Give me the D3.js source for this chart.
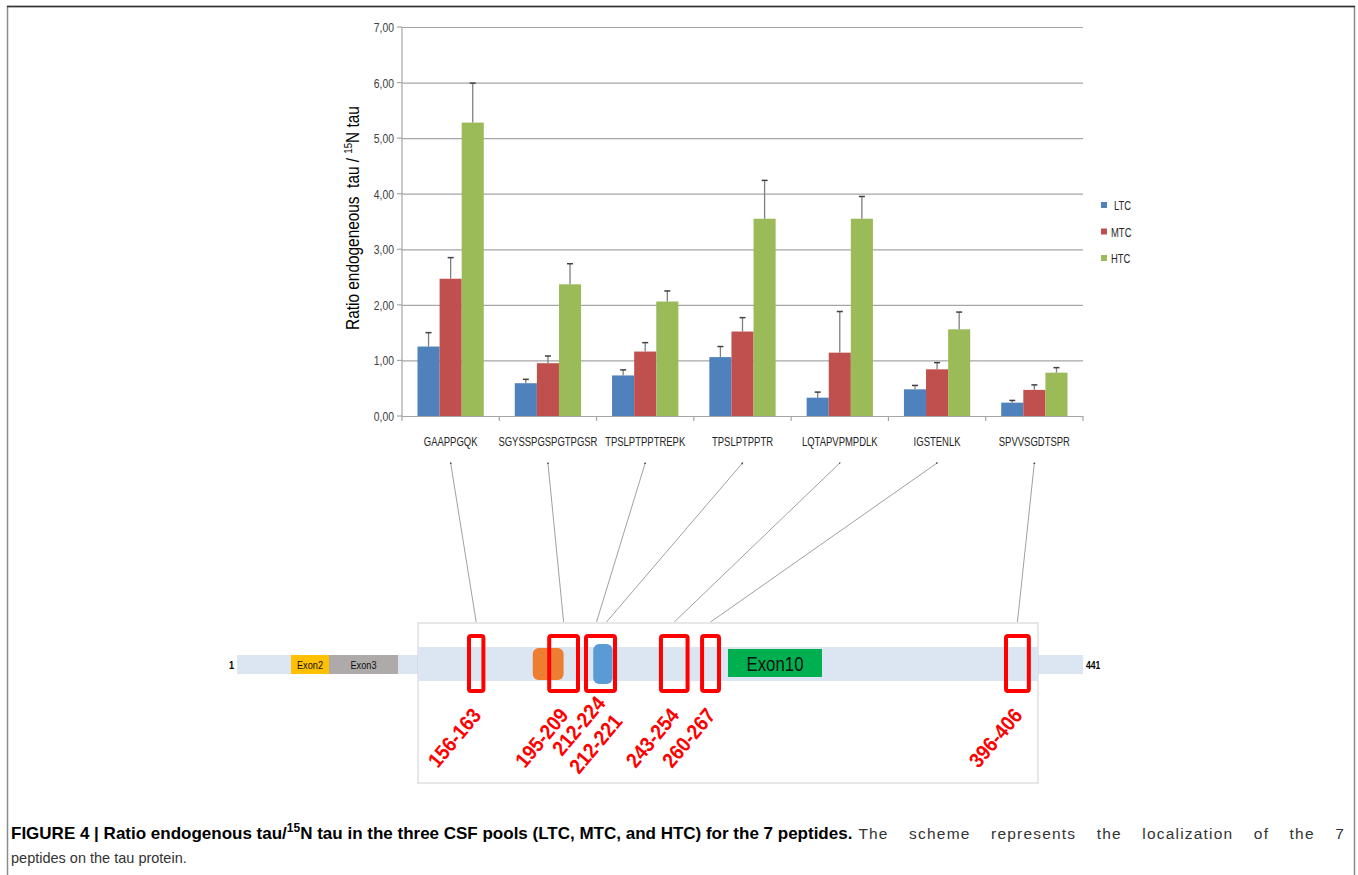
<!DOCTYPE html>
<html>
<head>
<meta charset="utf-8">
<script src="https://cdn.jsdelivr.net/npm/d3@7"></script>
<style>
  body { margin: 0; background: #fff; }
  svg { display: block; }
</style>
</head>
<body>
<script>
const width = 1358;
const height = 875;

// chart data
const peptides = ["GAAPPGQK", "SGYSSPGSPGTPGSR", "TPSLPTPPTREPK", "TPSLPTPPTR", "LQTAPVPMPDLK", "IGSTENLK", "SPVVSGDTSPR"];
const pools = ["LTC", "MTC", "HTC"];
const ltc = [1.25, 0.59, 0.73, 1.06, 0.33, 0.48, 0.24];
const mtc = [2.47, 0.95, 1.16, 1.52, 1.14, 0.84, 0.47];
const htc = [5.28, 2.37, 2.06, 3.55, 3.55, 1.56, 0.78];
const ltcErr = [0.25, 0.07, 0.10, 0.19, 0.10, 0.07, 0.04];
const mtcErr = [0.38, 0.13, 0.16, 0.25, 0.74, 0.12, 0.09];
const htcErr = [0.71, 0.37, 0.19, 0.69, 0.40, 0.31, 0.09];
const yTicks = [0, 1, 2, 3, 4, 5, 6, 7];

// tau protein scheme (residues)
const regions = [[156, 163], [195, 209], [212, 224], [243, 254], [260, 267], [396, 406]];
const regionLabels = ["156-163", "195-209", "212-224", "212-221", "243-254", "260-267", "396-406"];
const labelRegion = [0, 1, 2, 2, 3, 4, 5];
const peptideRegion = [0, 1, 2, 2, 3, 4, 5];
const exons = [{name: "Exon2", from: 45, to: 74}, {name: "Exon3", from: 74, to: 103}, {name: "Exon10", from: 275, to: 306}];
const domains = [{from: 187, to: 202}, {from: 215, to: 223}];

const colors = {LTC: "#4f81bd", MTC: "#c0504d", HTC: "#9bbb59"};
const narrowFont = "'Liberation Sans', Arial, sans-serif";

const svg = d3.select("body").append("svg")
    .attr("width", width)
    .attr("height", height);

// squeeze a text horizontally, to look like the narrow office font
function narrow(sel, k, px, py) {
    sel.attr("transform", function(d, i) {
        return "translate(" + px(d, i) + "," + py(d, i) + ") scale(" + k + ",1)";
    });
}

// frame (top, left, right)
svg.append("path")
    .attr("d", "M7.5,875V6.5H1354.5V875")
    .attr("fill", "none")
    .attr("stroke", "#8a8a8a")
    .attr("stroke-width", 1.5);
svg.append("line")
    .attr("x1", 7).attr("x2", 1355).attr("y1", 6.5).attr("y2", 6.5)
    .attr("stroke", "#333").attr("stroke-width", 1.5);

// ---- bar chart ----
const plot = {left: 402, right: 1083, top: 27, bottom: 416};

const x0 = d3.scaleBand()
    .domain(peptides)
    .range([plot.left, plot.right]);

const x1 = d3.scaleBand()
    .domain(pools)
    .range([15.5, x0.bandwidth() - 15.5]);

const y = d3.scaleLinear()
    .domain([0, 7])
    .range([plot.bottom, plot.top]);

const yAxis = d3.axisLeft(y)
    .tickValues(yTicks)
    .tickSize(-(plot.right - plot.left))
    .tickPadding(8)
    .tickFormat(d => d3.format(".2f")(d).replace(".", ","));

const gy = svg.append("g")
    .attr("transform", "translate(" + plot.left + ",0)")
    .call(yAxis);
gy.select(".domain").remove();
gy.selectAll(".tick line")
    .attr("stroke", "#a6a6a6")
    .attr("stroke-width", 1.2);
gy.selectAll(".tick text")
    .attr("fill", "#404040")
    .style("font-family", narrowFont)
    .style("font-size", "13px")
    .attr("x", null).attr("dy", null).attr("y", 4.5)
    .attr("transform", "translate(-8,0) scale(0.8,1)");

// left axis line + ticks
svg.append("line")
    .attr("x1", plot.left).attr("x2", plot.left)
    .attr("y1", plot.top).attr("y2", plot.bottom)
    .attr("stroke", "#a6a6a6").attr("stroke-width", 1.2);
svg.selectAll(".ytick")
    .data(yTicks)
    .enter().append("line")
    .attr("x1", plot.left - 5).attr("x2", plot.left)
    .attr("y1", d => y(d)).attr("y2", d => y(d))
    .attr("stroke", "#a6a6a6").attr("stroke-width", 1.2);

// x axis ticks
svg.selectAll(".xtick")
    .data(peptides.concat(["end"]))
    .enter().append("line")
    .attr("x1", (d, i) => plot.left + i * x0.bandwidth())
    .attr("x2", (d, i) => plot.left + i * x0.bandwidth())
    .attr("y1", plot.bottom).attr("y2", plot.bottom + 5)
    .attr("stroke", "#a6a6a6").attr("stroke-width", 1.2);

const rows = peptides.map(function(p, i) {
    return {peptide: p, values: [
        {pool: "LTC", v: ltc[i], e: ltcErr[i]},
        {pool: "MTC", v: mtc[i], e: mtcErr[i]},
        {pool: "HTC", v: htc[i], e: htcErr[i]}
    ]};
});

const groups = svg.selectAll(".grp")
    .data(rows)
    .enter().append("g")
    .attr("transform", d => "translate(" + x0(d.peptide) + ",0)");

groups.selectAll("rect")
    .data(d => d.values)
    .enter().append("rect")
    .attr("x", d => x1(d.pool))
    .attr("y", d => y(d.v))
    .attr("width", x1.bandwidth())
    .attr("height", d => y(0) - y(d.v))
    .attr("fill", d => colors[d.pool]);

// error bars
groups.selectAll(".err")
    .data(d => d.values)
    .enter().append("line")
    .attr("x1", d => x1(d.pool) + x1.bandwidth() / 2)
    .attr("x2", d => x1(d.pool) + x1.bandwidth() / 2)
    .attr("y1", d => y(d.v))
    .attr("y2", d => y(d.v + d.e))
    .attr("stroke", "#7f7f7f")
    .attr("stroke-width", 1.3);
groups.selectAll(".cap")
    .data(d => d.values)
    .enter().append("line")
    .attr("x1", d => x1(d.pool) + x1.bandwidth() / 2 - 3)
    .attr("x2", d => x1(d.pool) + x1.bandwidth() / 2 + 3)
    .attr("y1", d => y(d.v + d.e))
    .attr("y2", d => y(d.v + d.e))
    .attr("stroke", "#404040")
    .attr("stroke-width", 1.5);

// x labels
svg.selectAll(".xlab")
    .data(peptides)
    .enter().append("text")
    .attr("text-anchor", "middle")
    .attr("fill", "#262626")
    .style("font-family", narrowFont)
    .style("font-size", "13px")
    .text(d => d)
    .call(narrow, 0.73, d => x0(d) + x0.bandwidth() / 2, () => 446);

// y label
const ylab = svg.append("text")
    .attr("transform", "translate(359,218) rotate(-90) scale(0.88,1)")
    .attr("text-anchor", "middle")
    .attr("fill", "#000")
    .style("font-family", narrowFont)
    .style("font-size", "17.5px");
ylab.append("tspan").text("Ratio endogeneous\u00a0 tau / ");
ylab.append("tspan").attr("dy", -7).style("font-size", "11px").text("15");
ylab.append("tspan").attr("dy", 7).text("N tau");

// legend
const legend = svg.selectAll(".leg")
    .data(pools)
    .enter().append("g")
    .attr("transform", (d, i) => "translate(1101," + (205 + i * 26.5) + ")");
legend.append("rect")
    .attr("x", 0).attr("y", -3)
    .attr("width", 6).attr("height", 6)
    .attr("fill", d => colors[d]);
legend.append("text")
    .attr("fill", "#262626")
    .style("font-family", narrowFont)
    .style("font-size", "13.5px")
    .text(d => d)
    .call(narrow, 0.7, (d, i) => i === 0 ? 13 : 10, () => 5);

// ---- protein scheme ----
const box = {left: 418, right: 1038, top: 623, bottom: 783};
// schematic (not proportional) residue -> x scale
const res = d3.scaleLinear()
    .domain([1, 45, 74, 103, 134, 156, 209, 212, 267, 275, 306, 396, 410, 441])
    .range([237, 291, 329, 398, 418, 469, 578, 586, 719, 728, 822, 1006, 1038, 1083])
    .clamp(true);

// thin bar outside the box
svg.append("rect")
    .attr("x", res(1)).attr("y", 655)
    .attr("width", res(134) - res(1)).attr("height", 19)
    .attr("fill", "#dce6f2");
svg.append("rect")
    .attr("x", res(410)).attr("y", 655)
    .attr("width", res(441) - res(410)).attr("height", 19)
    .attr("fill", "#dce6f2");

// magnified box
svg.append("rect")
    .attr("x", box.left).attr("y", box.top)
    .attr("width", box.right - box.left).attr("height", box.bottom - box.top)
    .attr("fill", "#fff")
    .attr("stroke", "#d0d0d0")
    .attr("stroke-width", 1);
svg.append("rect")
    .attr("x", box.left).attr("y", 647)
    .attr("width", box.right - box.left).attr("height", 34)
    .attr("fill", "#dce6f2");

// residue ends
svg.append("text")
    .attr("text-anchor", "end")
    .style("font-family", narrowFont)
    .style("font-size", "11.5px")
    .style("font-weight", "bold")
    .datum(0)
    .text("1")
    .call(narrow, 0.8, () => 234, () => 669);
svg.append("text")
    .style("font-family", narrowFont)
    .style("font-size", "11.5px")
    .style("font-weight", "bold")
    .datum(0)
    .text("441")
    .call(narrow, 0.75, () => 1086, () => 669);

// exons
const exonColor = {Exon2: "#ffc000", Exon3: "#aeaaaa", Exon10: "#00b050"};
svg.selectAll(".exon")
    .data(exons)
    .enter().append("rect")
    .attr("x", d => res(d.from))
    .attr("y", d => d.name === "Exon10" ? 649 : 655)
    .attr("width", d => res(d.to) - res(d.from))
    .attr("height", d => d.name === "Exon10" ? 28 : 19)
    .attr("fill", d => exonColor[d.name]);
svg.selectAll(".exonlab")
    .data(exons)
    .enter().append("text")
    .attr("text-anchor", "middle")
    .attr("fill", "#111")
    .style("font-family", narrowFont)
    .style("font-size", d => d.name === "Exon10" ? "21px" : "11.5px")
    .text(d => d.name)
    .call(narrow, 0.8, d => (res(d.from) + res(d.to)) / 2, d => d.name === "Exon10" ? 671 : 669);

// domains
svg.selectAll(".dom")
    .data(domains)
    .enter().append("rect")
    .attr("x", d => res(d.from))
    .attr("y", (d, i) => i === 0 ? 648 : 644)
    .attr("width", d => res(d.to) - res(d.from))
    .attr("height", (d, i) => i === 0 ? 32 : 40)
    .attr("rx", 6)
    .attr("fill", (d, i) => i === 0 ? "#ed7d31" : "#5b9bd5");

// peptide regions
svg.selectAll(".reg")
    .data(regions)
    .enter().append("rect")
    .attr("x", d => res(d[0]))
    .attr("y", 636)
    .attr("width", d => res(d[1]) - res(d[0]))
    .attr("height", 55)
    .attr("rx", 2)
    .attr("fill", "none")
    .attr("stroke", "#ff0000")
    .attr("stroke-width", 4);

// rotated residue labels; the two labels of the shared box are staggered
function regionCenter(r) { return (res(r[0]) + res(r[1])) / 2; }
svg.selectAll(".reglab")
    .data(regionLabels)
    .enter().append("text")
    .attr("transform", function(d, i) {
        let cx = regionCenter(regions[labelRegion[i]]) + 6;
        let cy = 716;
        if (d === "212-224") { cy = 704; }
        if (d === "212-221") { cx += 17; cy = 722; }
        return "translate(" + cx + "," + cy + ") rotate(-50) scale(0.9,1)";
    })
    .attr("text-anchor", "end")
    .attr("fill", "#ff0000")
    .style("font-family", narrowFont)
    .style("font-weight", "bold")
    .style("font-size", "21px")
    .text(d => d);

// links from peptide labels to regions
svg.append("defs").append("marker")
    .attr("id", "tip")
    .attr("viewBox", "0 0 6 6")
    .attr("refX", 3).attr("refY", 3)
    .attr("markerWidth", 3).attr("markerHeight", 3)
    .attr("orient", "auto-start-reverse")
    .append("path")
    .attr("d", "M0,0L6,3L0,6Z")
    .attr("fill", "#555");

svg.selectAll(".link")
    .data(peptides)
    .enter().append("line")
    .attr("x1", d => x0(d) + x0.bandwidth() / 2)
    .attr("y1", 463)
    .attr("x2", (d, i) => regionCenter(regions[peptideRegion[i]]) + (i === 3 ? 6 : 0) - (i === 2 ? 4 : 0))
    .attr("y2", 622)
    .attr("stroke", "#888")
    .attr("stroke-width", 0.8)
    .attr("marker-start", "url(#tip)");

// ---- caption ----
const capBold = svg.append("text")
    .attr("x", 11).attr("y", 839)
    .style("font-family", "'Liberation Sans', Arial, sans-serif")
    .style("font-weight", "bold")
    .style("font-size", "17px");
capBold.append("tspan").text("FIGURE 4 | Ratio endogenous tau/");
capBold.append("tspan").attr("dy", -7).style("font-size", "12px").text("15");
capBold.append("tspan").attr("dy", 7).text("N tau in the three CSF pools (LTC, MTC, and HTC) for the 7 peptides.");
const boldEnd = 11 + capBold.node().getComputedTextLength();

// rest of the first line, justified to the right edge
const capRest = svg.append("text")
    .attr("x", boldEnd + 6).attr("y", 839)
    .attr("fill", "#333")
    .style("font-family", "'Liberation Sans', Arial, sans-serif")
    .style("font-size", "15.5px")
    .style("letter-spacing", "1.2px")
    .text("The scheme represents the localization of the 7");
const restNatural = capRest.node().getComputedTextLength();
const restSpaces = capRest.text().split(" ").length - 1;
capRest.style("word-spacing", Math.max(0, (1345 - boldEnd - 6 - restNatural) / restSpaces) + "px");

svg.append("text")
    .attr("x", 11).attr("y", 863)
    .attr("fill", "#333")
    .style("font-family", "'Liberation Sans', Arial, sans-serif")
    .style("font-size", "14.5px")
    .text("peptides on the tau protein.");
</script>
</body>
</html>
